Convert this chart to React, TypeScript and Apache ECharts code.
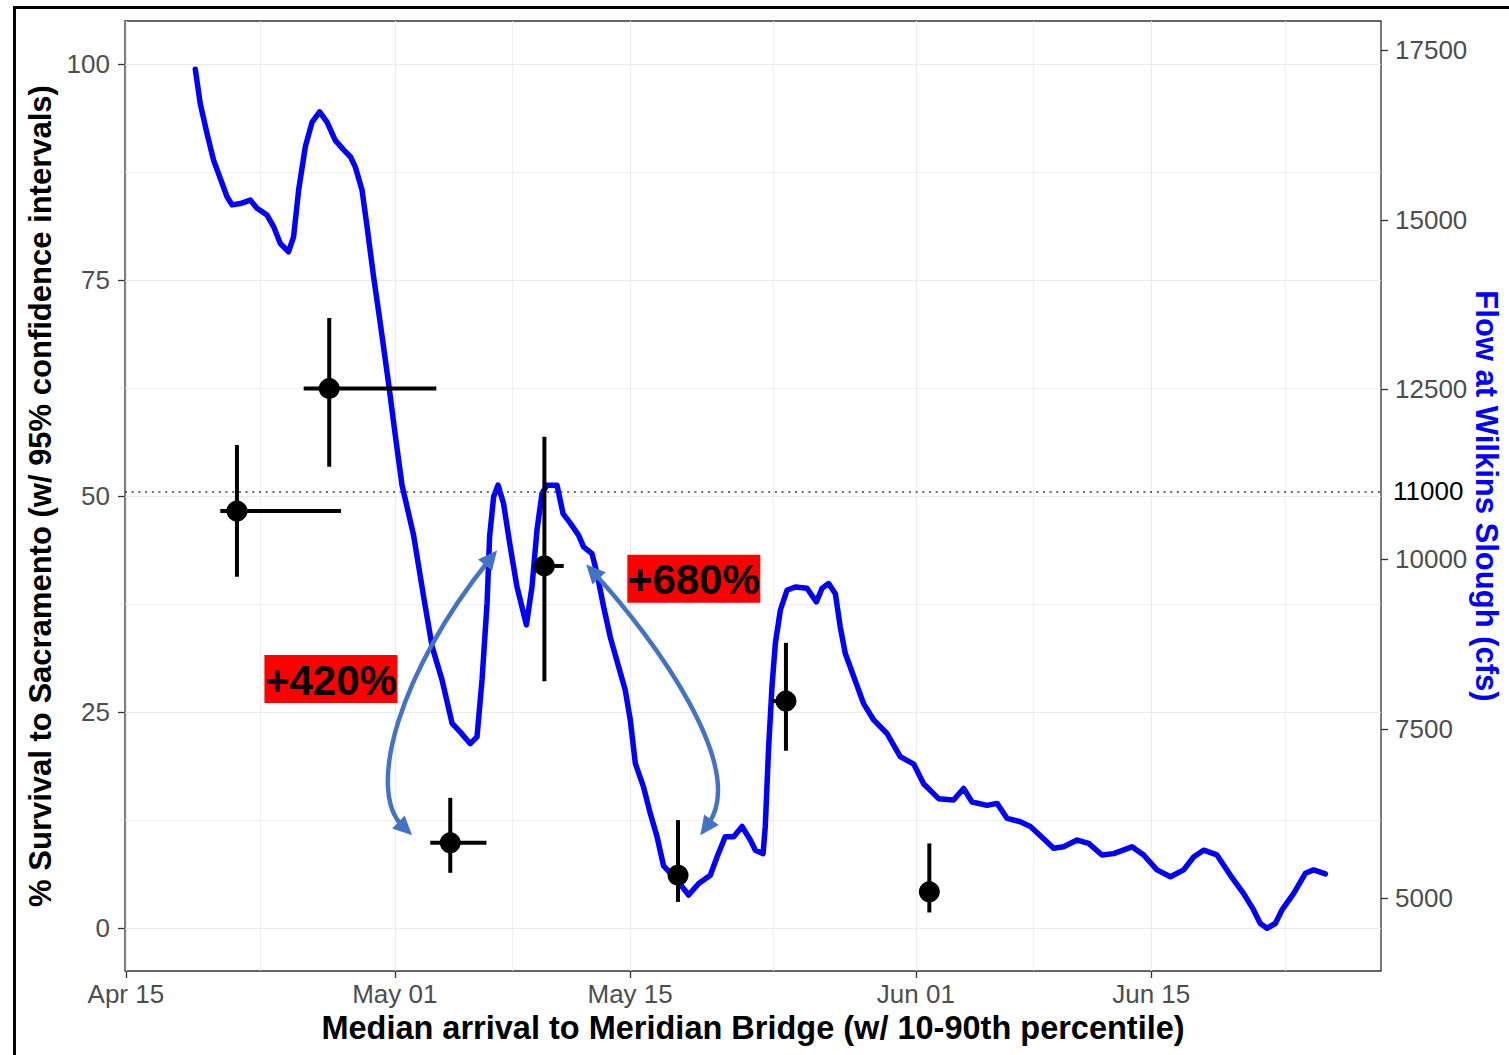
import React, { useEffect, useRef } from 'react';
import * as echarts from 'echarts';

const FONT = '"Liberation Sans", Arial, Helvetica, sans-serif';

// x positions are days after Apr 15
const DATE_TICK_DAYS = [0, 16, 30, 47, 61];
const DATE_TICK_LABELS = ['Apr 15', 'May 01', 'May 15', 'Jun 01', 'Jun 15'];
const DATE_MINOR_DAYS = [8, 23, 38.5, 54, 69];

const SURVIVAL_TICKS = [0, 25, 50, 75, 100];
const SURVIVAL_MINOR = [12.5, 37.5, 62.5, 87.5];
const FLOW_TICKS = [5000, 7500, 10000, 12500, 15000, 17500];
const FLOW_THRESHOLD = 11000;

// release groups: median arrival (10th / 90th percentile) and survival with 95% CI
const ARRIVAL_MEDIAN = [6.61, 12.1, 19.3, 24.9, 32.85, 39.27, 47.8];
const ARRIVAL_P10 = [5.62, 10.58, 18.11, 24.4, 32.5, 38.38, 47.5];
const ARRIVAL_P90 = [12.8, 18.47, 21.45, 26.05, 33.2, 39.8, 48.1];
const SURVIVAL = [48.25, 62.45, 9.84, 41.9, 6.1, 26.25, 4.17];
const SURVIVAL_LCI = [40.64, 53.4, 6.37, 28.56, 3.0, 20.5, 1.78];
const SURVIVAL_UCI = [55.9, 70.6, 15.05, 56.85, 12.47, 33.0, 9.77];

// flow at Wilkins Slough (cfs)
const FLOW_DAY = [
  4.13, 4.43, 4.83, 5.22, 5.62, 6.02, 6.32, 6.81, 7.41, 7.8,
  8.4, 8.79, 9.19, 9.68, 9.98, 10.28, 10.68, 11.08, 11.53, 11.97,
  12.46, 12.96, 13.36, 13.65, 14.05, 14.35, 14.74, 15.14, 15.63, 16.07,
  16.43, 17.12, 17.72, 18.22, 18.81, 19.41, 19.9, 20.49, 20.89, 21.19,
  21.49, 21.64, 21.88, 22.14, 22.47, 22.87, 23.27, 23.83, 24.16, 24.46,
  24.76, 25.06, 25.65, 26.01, 26.44, 26.94, 27.23, 27.73, 28.03, 28.42,
  28.82, 29.32, 29.71, 30.01, 30.31, 30.8, 31.2, 31.6, 31.99, 32.79,
  33.48, 34.08, 34.77, 35.17, 35.66, 36.16, 36.66, 37.15, 37.45, 37.91,
  38.04, 38.24, 38.44, 38.64, 38.94, 39.33, 39.83, 40.52, 41.08, 41.42,
  41.81, 42.21, 42.5, 42.8, 43.3, 43.89, 44.49, 45.28, 46.07, 46.87,
  47.46, 48.35, 49.24, 49.84, 50.34, 51.23, 51.83, 52.42, 53.21, 53.81,
  54.6, 55.19, 55.79, 56.59, 57.28, 58.07, 58.76, 59.86, 60.55, 61.34,
  62.14, 62.93, 63.52, 64.12, 64.91, 65.71, 66.5, 67.09, 67.49, 67.89,
  68.38, 68.78, 69.47, 70.17, 70.66, 71.36,
];
const FLOW_CFS = [
  17220, 16710, 16270, 15880, 15610, 15340, 15220, 15240, 15290, 15170,
  15070, 14900, 14650, 14530, 14750, 15440, 16080, 16440, 16590, 16440,
  16170, 16030, 15930, 15780, 15440, 14900, 14160, 13470, 12590, 11750,
  11090, 10350, 9440, 8710, 8220, 7580, 7450, 7280, 7380, 8220,
  9350, 10330, 10920, 11090, 10820, 10180, 9590, 9030, 9590, 10430,
  10970, 11090, 11090, 10670, 10530, 10350, 10180, 10080, 9790, 9300,
  8850, 8410, 8070, 7630, 6990, 6640, 6250, 5910, 5480, 5270,
  5050, 5220, 5340, 5610, 5910, 5910, 6060, 5860, 5710, 5660,
  6060, 7230, 8120, 8760, 9250, 9540, 9590, 9570, 9370, 9570,
  9640, 9490, 9000, 8610, 8270, 7870, 7630, 7430, 7090, 6980,
  6690, 6470, 6450, 6620, 6420, 6370, 6400, 6180, 6130, 6060,
  5880, 5740, 5760, 5860, 5810, 5640, 5660, 5760, 5640, 5420,
  5320, 5420, 5610, 5710, 5640, 5340, 5070, 4830, 4630, 4560,
  4630, 4830, 5070, 5370, 5420, 5360,
];

// percent-change callouts: [label, day, survival] of the box centre
const CALLOUTS: [string, number, number][] = [
  ['+420%', 12.2, 28.8],
  ['+680%', 33.79, 40.43],
];
// curved double arrows as cubic curves [day, survival]: start, ctrl1, ctrl2, end
const ARROWS: number[][][] = [
  [[22.08, 43.7], [16.33, 29.84], [14.25, 15.94], [17.03, 10.73]],
  [[27.39, 42.08], [31.5, 33.31], [37.03, 18.49], [34.18, 10.73]],
];

const X_MIN = -0.05;
const X_MAX = 74.67;
const Y_MIN = -5;
const Y_MAX = 105;
const FLOW_MIN = 3930;
const FLOW_MAX = 17930;

const GRID_MAJOR = '#EBEBEB';
const AXIS_DARK = '#333333';
const TICK_TEXT = '#4D4D4D';
const ARROW_BLUE = '#4472C4';

function arrowShapes(pts: number[][]) {
  const [p0, p1, p2, p3] = pts;
  const head = (tip: number[], from: number[]) => {
    const dx = tip[0] - from[0];
    const dy = tip[1] - from[1];
    const len = Math.hypot(dx, dy) || 1;
    const ux = dx / len;
    const uy = dy / len;
    const L = 19;
    const W = 9;
    const bx = tip[0] - ux * L;
    const by = tip[1] - uy * L;
    return {
      poly: {
        type: 'polygon',
        z: 20,
        shape: {
          points: [
            [tip[0], tip[1]],
            [bx - uy * W, by + ux * W],
            [bx + uy * W, by - ux * W],
          ],
        },
        style: { fill: ARROW_BLUE },
      },
      base: [tip[0] - ux * L * 0.7, tip[1] - uy * L * 0.7],
    };
  };
  const h0 = head(p0, p1);
  const h3 = head(p3, p2);
  return [
    {
      type: 'bezierCurve',
      z: 20,
      shape: {
        x1: h0.base[0], y1: h0.base[1],
        cpx1: p1[0], cpy1: p1[1],
        cpx2: p2[0], cpy2: p2[1],
        x2: h3.base[0], y2: h3.base[1],
      },
      style: { stroke: ARROW_BLUE, lineWidth: 4.5, fill: 'none' },
    },
    h0.poly,
    h3.poly,
  ];
}

export default function App() {
  const ref = useRef<HTMLDivElement>(null);

  useEffect(() => {
    if (!ref.current) return;
    const chart = echarts.init(ref.current, undefined, { renderer: 'svg' });

    const flowData = FLOW_DAY.map((d, i) => [d, FLOW_CFS[i]]);
    const barData = ARRIVAL_MEDIAN.map((m, i) => [
      m, ARRIVAL_P10[i], ARRIVAL_P90[i], SURVIVAL[i], SURVIVAL_LCI[i], SURVIVAL_UCI[i],
    ]);
    const pointData = ARRIVAL_MEDIAN.map((m, i) => [m, SURVIVAL[i]]);

    const tickStyle = { color: AXIS_DARK, width: 1.3 };
    const labelStyle = { color: TICK_TEXT, fontSize: 26, fontFamily: FONT };

    const option: any = {
      animation: false,
      backgroundColor: '#ffffff',
      textStyle: { fontFamily: FONT },
      grid: {
        left: 125,
        top: 21,
        width: 1256,
        height: 950,
        show: true,
        backgroundColor: '#ffffff',
        borderColor: AXIS_DARK,
        borderWidth: 1.3,
        containLabel: false,
        outerBoundsMode: 'none',
      },
      xAxis: [
        {
          type: 'value',
          min: X_MIN,
          max: X_MAX,
          position: 'bottom',
          axisLine: { show: false, onZero: false },
          axisTick: { show: true, length: 7, customValues: DATE_TICK_DAYS, lineStyle: tickStyle },
          axisLabel: {
            ...labelStyle,
            customValues: DATE_TICK_DAYS,
            formatter: (v: number) => {
              const i = DATE_TICK_DAYS.indexOf(v);
              return i >= 0 ? DATE_TICK_LABELS[i] : '';
            },
            margin: 10,
          },
          splitLine: { show: true, lineStyle: { color: GRID_MAJOR, width: 1.2 } },
          name: 'Median arrival to Meridian Bridge (w/ 10-90th percentile)',
          nameLocation: 'middle',
          nameGap: 38,
          nameTextStyle: { fontFamily: FONT, fontSize: 32.5, fontWeight: 'bold', color: '#000' },
        },
        {
          type: 'value',
          min: X_MIN,
          max: X_MAX,
          position: 'top',
          axisLine: { show: false, onZero: false },
          axisTick: { show: false, customValues: DATE_MINOR_DAYS },
          axisLabel: { show: false },
          splitLine: { show: true, lineStyle: { color: GRID_MAJOR, width: 0.7 } },
        },
      ],
      yAxis: [
        {
          type: 'value',
          min: Y_MIN,
          max: Y_MAX,
          position: 'left',
          axisLine: { show: false, onZero: false },
          axisTick: { show: true, length: 7, customValues: SURVIVAL_TICKS, lineStyle: tickStyle },
          axisLabel: { ...labelStyle, customValues: SURVIVAL_TICKS, margin: 15 },
          splitLine: { show: true, lineStyle: { color: GRID_MAJOR, width: 1.2 } },
          name: '% Survival to Sacramento (w/ 95% confidence intervals)',
          nameLocation: 'middle',
          nameGap: 68,
          nameTextStyle: { fontFamily: FONT, fontSize: 31, fontWeight: 'bold', color: '#000' },
        },
        {
          type: 'value',
          min: FLOW_MIN,
          max: FLOW_MAX,
          position: 'right',
          axisLine: { show: false, onZero: false },
          axisTick: { show: true, length: 7, customValues: FLOW_TICKS, lineStyle: tickStyle },
          axisLabel: {
            ...labelStyle,
            customValues: FLOW_TICKS,
            formatter: (v: number) => String(v),
            margin: 14,
          },
          splitLine: { show: false },
          name: 'Flow at Wilkins Slough (cfs)',
          nameLocation: 'middle',
          nameRotate: -90,
          nameGap: 90,
          nameMoveOverlap: false,
          nameTextStyle: { fontFamily: FONT, fontSize: 31, fontWeight: 'bold', color: '#0000FF' },
        },
        {
          type: 'value',
          min: Y_MIN,
          max: Y_MAX,
          position: 'left',
          axisLine: { show: false, onZero: false },
          axisTick: { show: false, customValues: SURVIVAL_MINOR },
          axisLabel: { show: false },
          splitLine: { show: true, lineStyle: { color: GRID_MAJOR, width: 0.7 } },
        },
      ],
      series: [
        {
          name: 'Flow',
          type: 'line',
          xAxisIndex: 0,
          yAxisIndex: 1,
          data: flowData,
          showSymbol: false,
          symbol: 'none',
          z: 2,
          lineStyle: { color: '#0000FF', width: 5.5, cap: 'round', join: 'round' },
          markLine: {
            silent: true,
            symbol: ['none', 'none'],
            data: [{ yAxis: FLOW_THRESHOLD }],
            lineStyle: { color: '#2F3F55', width: 1.6, type: [2, 4.7] },
            label: {
              show: true,
              position: 'end',
              distance: 12,
              formatter: '{c}',
              color: '#000000',
              fontSize: 26,
              fontFamily: FONT,
            },
          },
        },
        {
          name: 'Arrival range and CI',
          type: 'custom',
          xAxisIndex: 0,
          yAxisIndex: 0,
          z: 3,
          data: barData,
          encode: { x: 0, y: 3 },
          renderItem: (_params: any, api: any) => {
            const m = api.value(0);
            const p10 = api.value(1);
            const p90 = api.value(2);
            const s = api.value(3);
            const lo = api.value(4);
            const hi = api.value(5);
            const c = api.coord([m, s]);
            const top = api.coord([m, hi]);
            const bot = api.coord([m, lo]);
            const left = api.coord([p10, s]);
            const right = api.coord([p90, s]);
            const style = { stroke: '#000000', lineWidth: 4 };
            return {
              type: 'group',
              children: [
                { type: 'line', shape: { x1: c[0], y1: top[1], x2: c[0], y2: bot[1] }, style },
                { type: 'line', shape: { x1: left[0], y1: c[1], x2: right[0], y2: c[1] }, style },
              ],
            };
          },
        },
        {
          name: 'Survival',
          type: 'scatter',
          xAxisIndex: 0,
          yAxisIndex: 0,
          z: 4,
          data: pointData,
          symbol: 'circle',
          symbolSize: 21,
          itemStyle: { color: '#000000', opacity: 1 },
        },
      ],
    };

    chart.setOption(option);

    const toPx = (p: number[]) =>
      chart.convertToPixel({ xAxisIndex: 0, yAxisIndex: 0 }, p) as number[];

    const graphics: any[] = [
      // figure frame
      {
        type: 'rect',
        z: 30,
        shape: { x: 14.5, y: 7.5, width: 1700, height: 1300 },
        style: { fill: 'none', stroke: '#000000', lineWidth: 3 },
      },
    ];
    CALLOUTS.forEach(([label, d, s]) => {
      const [cx, cy] = toPx([d, s]);
      graphics.push({
        type: 'rect',
        z: 20,
        shape: { x: cx - 66.5, y: cy - 24, width: 133, height: 48 },
        style: { fill: '#FF0000' },
      });
      graphics.push({
        type: 'text',
        z: 21,
        x: cx,
        y: cy + 1,
        style: {
          text: label,
          font: `bold 42px ${FONT}`,
          fill: '#000000',
          align: 'center',
          verticalAlign: 'middle',
        },
      });
    });
    ARROWS.forEach((a) => {
      graphics.push(...arrowShapes(a.map(toPx)));
    });

    chart.setOption({ graphic: graphics });

    return () => {
      chart.dispose();
    };
  }, []);

  return (
    <div
      ref={ref}
      style={{
        position: 'fixed',
        left: 0,
        top: 0,
        width: '1509px',
        height: '1055px',
        background: '#ffffff',
      }}
    />
  );
}
